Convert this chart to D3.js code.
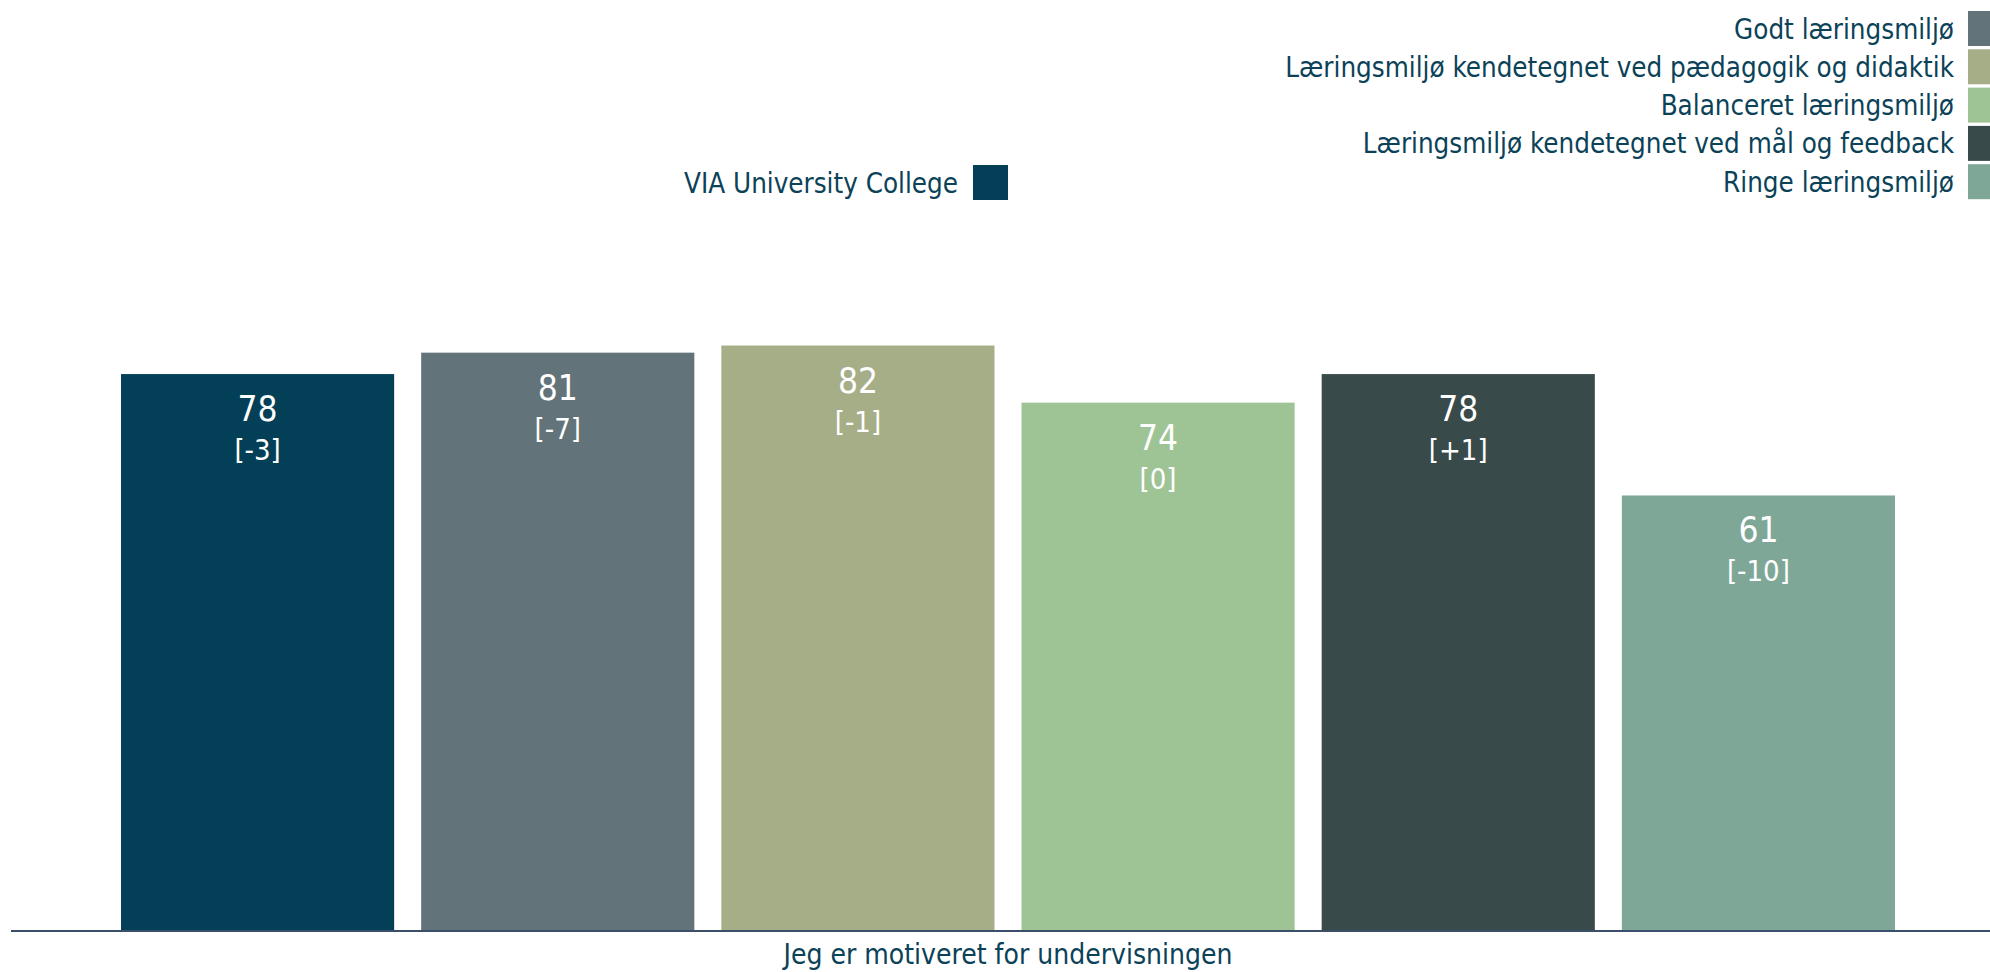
<!DOCTYPE html>
<html>
<head>
<meta charset="utf-8">
<script src="https://cdn.jsdelivr.net/npm/d3@7/dist/d3.min.js"></script>
<style>
  html, body { margin: 0; padding: 0; background: #ffffff; }
  svg { display: block; }
</style>
</head>
<body>
<div id="chart"></div>
<script>
var WIDTH = 1990;
var HEIGHT = 972;
var FONT = "'DejaVu Sans Condensed', 'DejaVu Sans', sans-serif";
var TEXT_COLOR = "#0b4258";

// data
var categories = [
  "VIA University College",
  "Godt læringsmiljø",
  "Læringsmiljø kendetegnet ved pædagogik og didaktik",
  "Balanceret læringsmiljø",
  "Læringsmiljø kendetegnet ved mål og feedback",
  "Ringe læringsmiljø"
];
var values = [78, 81, 82, 74, 78, 61];
var changes = [-3, -7, -1, 0, 1, -10];
var colors = ["#033f56", "#627479", "#a6ae88", "#9ec496", "#394a4a", "#7fa798"];
var question = "Jeg er motiveret for undervisningen";

var svg = d3.select("#chart").append("svg")
    .attr("width", WIDTH)
    .attr("height", HEIGHT);

var x = d3.scaleBand()
    .domain(categories)
    .range([121, 1895])
    .paddingInner(0.09)
    .paddingOuter(0);

var y = d3.scaleLinear()
    .domain([0, 100])
    .range([931, 217]);

function fmtChange(c) {
    if (c > 0) return "[+" + c + "]";
    return "[" + c + "]";
}

// bars
var bars = svg.append("g").selectAll("g")
    .data(categories)
    .enter().append("g");

bars.append("rect")
    .attr("x", function (d) { return x(d); })
    .attr("y", function (d, i) { return y(values[i]); })
    .attr("width", x.bandwidth())
    .attr("height", function (d, i) { return y(0) - y(values[i]); })
    .attr("fill", function (d, i) { return colors[i]; });

bars.append("text")
    .attr("x", function (d) { return x(d) + x.bandwidth() / 2; })
    .attr("y", function (d, i) { return y(values[i]) + 35; })
    .attr("text-anchor", "middle")
    .attr("dominant-baseline", "central")
    .style("font-family", FONT)
    .style("font-size", "35px")
    .attr("fill", "#ffffff")
    .text(function (d, i) { return values[i]; });

bars.append("text")
    .attr("x", function (d) { return x(d) + x.bandwidth() / 2; })
    .attr("y", function (d, i) { return y(values[i]) + 76; })
    .attr("text-anchor", "middle")
    .attr("dominant-baseline", "central")
    .style("font-family", FONT)
    .style("font-size", "29px")
    .attr("fill", "#ffffff")
    .text(function (d, i) { return fmtChange(changes[i]); });

// axis line + question label
svg.append("line")
    .attr("x1", 11).attr("x2", WIDTH)
    .attr("y1", 931).attr("y2", 931)
    .attr("stroke", "#3b4f6b")
    .attr("stroke-width", 2);

svg.append("text")
    .attr("x", (x.range()[0] + x.range()[1]) / 2)
    .attr("y", 954)
    .attr("text-anchor", "middle")
    .attr("dominant-baseline", "central")
    .style("font-family", FONT)
    .style("font-size", "28px")
    .attr("fill", TEXT_COLOR)
    .text(question);

// legend: first series on its own, the rest stacked on the right
var SW = 35;
var ROW = 38.3;

var viaLegend = svg.append("g").attr("transform", "translate(973,165)");
viaLegend.append("rect")
    .attr("width", SW).attr("height", SW)
    .attr("fill", colors[0]);
viaLegend.append("text")
    .attr("x", -15).attr("y", SW / 2)
    .attr("text-anchor", "end")
    .attr("dominant-baseline", "central")
    .style("font-family", FONT)
    .style("font-size", "27.5px")
    .attr("fill", TEXT_COLOR)
    .text(categories[0]);

var legend = svg.append("g").selectAll("g")
    .data(categories.slice(1))
    .enter().append("g")
    .attr("transform", function (d, i) { return "translate(1968," + (11 + i * ROW) + ")"; });

legend.append("rect")
    .attr("width", SW).attr("height", SW)
    .attr("fill", function (d, i) { return colors[i + 1]; });

legend.append("text")
    .attr("x", -14).attr("y", SW / 2)
    .attr("text-anchor", "end")
    .attr("dominant-baseline", "central")
    .style("font-family", FONT)
    .style("font-size", "27.5px")
    .attr("fill", TEXT_COLOR)
    .text(function (d) { return d; });
</script>
</body>
</html>
